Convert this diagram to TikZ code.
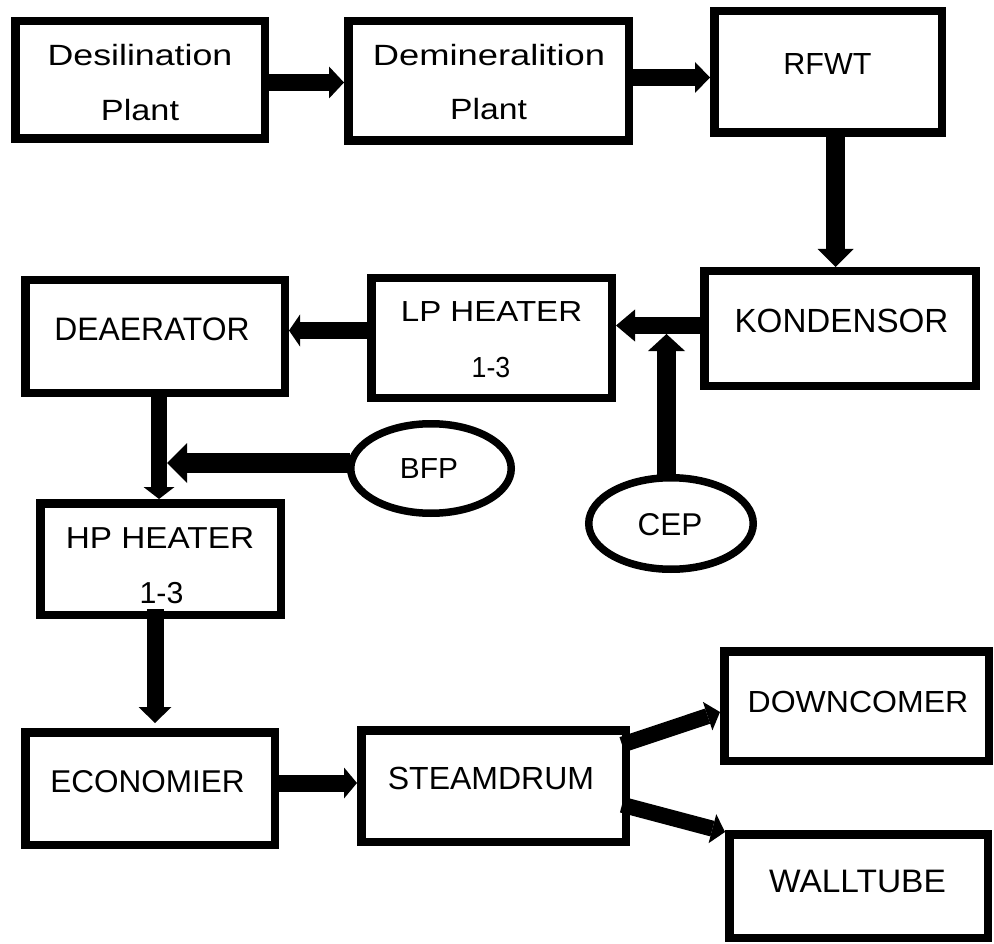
\documentclass[tikz,border=0pt]{standalone}
\usepackage{fontspec}
\setmainfont{Liberation Sans}
\usepackage{graphicx}
\usetikzlibrary{arrows.meta,calc,shapes.geometric}
\newcommand{\mytxt}[3]{\fontsize{#1}{#1}\selectfont\scalebox{#2}[1]{#3}}
\begin{document}
\begin{tikzpicture}[x=1pt,y=-1pt,
  box/.style 2 args={draw, line width=8.5pt, rectangle, inner sep=0pt, fill=white,
    minimum width=#1pt, minimum height=#2pt},
  oval/.style 2 args={draw, line width=7.5pt, ellipse, inner sep=0pt, fill=white,
    minimum width=#1pt, minimum height=#2pt},
  txt/.style={inner sep=0pt, anchor=base},
  barrow/.style n args={3}{line width=#1pt,
    -{Triangle[length=#2pt, width=#3pt, line width=0pt]}}]
\useasboundingbox (0,0) rectangle (994,944);
\fill[white] (0,0) rectangle (994,944);

% boxes
\node[box={249.5}{117.5}] (desil) at (140,80) {};
\node[box={280.5}{119.5}] (demin) at (488.5,81) {};
\node[box={227.5}{121.5}] (rfwt) at (828,72) {};
\node[box={271.5}{114.5}] (kond) at (840,328.5) {};
\node[box={240.5}{119.5}] (lph) at (491.5,338) {};
\node[box={259.5}{112.5}] (deaer) at (155,336.5) {};
\node[box={240.5}{111.5}] (hph) at (160.5,559) {};
\node[box={249.5}{112.5}] (econ) at (150,788.5) {};
\node[box={264.5}{111.5}] (steam) at (493.5,786) {};
\node[box={264.5}{109.5}] (down) at (856.5,706) {};
\node[box={258.5}{103.5}] (wall) at (858.5,886) {};
\node[oval={160.5}{89.5}] (bfp) at (431,468.5) {};
\node[oval={164.5}{91.5}] (cep) at (671,523.5) {};

% texts
\node[txt] (desilA) at (140,66) {\mytxt{29.3}{1.22}{Desilination}};
\node[txt] (desilB) at (140,121) {\mytxt{29.3}{1.17}{Plant}};
\node[txt] (deminA) at (489,66) {\mytxt{29.3}{1.24}{Demineralition}};
\node[txt] (deminB) at (488.5,120) {\mytxt{29.3}{1.15}{Plant}};
\node[txt] (rfwtT) at (827.5,75) {\mytxt{30.5}{1}{RFWT}};
\node[txt] (kondT) at (841.5,333) {\mytxt{33.5}{0.99}{KONDENSOR}};
\node[txt] (lphA) at (491.5,322) {\mytxt{29}{1.14}{LP HEATER}};
\node[txt] (lphB) at (491,377) {\mytxt{29}{0.92}{1-3}};
\node[txt] (deaerT) at (152,341) {\mytxt{32.5}{0.98}{DEAERATOR}};
\node[txt] (bfpT) at (429,478) {\mytxt{29}{1.03}{BFP}};
\node[txt] (cepT) at (670,535) {\mytxt{31.5}{1}{CEP}};
\node[txt] (hphA) at (160,548) {\mytxt{30.3}{1.1}{HP HEATER}};
\node[txt] (hphB) at (161.5,603) {\mytxt{30.3}{1}{1-3}};
\node[txt] (econT) at (147.5,792) {\mytxt{31.5}{1}{ECONOMIER}};
\node[txt] (steamT) at (491,789) {\mytxt{32}{1}{STEAMDRUM}};
\node[txt] (downT) at (858,712) {\mytxt{30.5}{1.05}{DOWNCOMER}};
\node[txt] (wallT) at (857.5,892) {\mytxt{32.5}{1.03}{WALLTUBE}};

% connectors
\coordinate (j1) at (666.5,334);
\coordinate (j2) at (167,463);
\draw[barrow={17}{15}{32}] ($(desil.east)+(0,2.5)$) coordinate (a1) -- (a1 -| demin.west);
\draw[barrow={17}{15}{31}] ($(demin.east)+(0,-3.5)$) coordinate (a2) -- (a2 -| rfwt.west);
\draw[barrow={19}{18}{36}] ($(rfwt.south)+(7.5,0)$) coordinate (a3) -- (a3 |- kond.north);
\draw[barrow={17}{19}{32}] ($(kond.west)+(0,-3)$) coordinate (a4) -- (a4 -| lph.east);
\draw[barrow={19}{17}{37}] ($(j1 |- cep.north)+(0,3)$) -- (j1);
\draw[barrow={17}{11}{32}] ($(lph.west)+(0,-7.5)$) coordinate (a6) -- (a6 -| deaer.east);
\draw[barrow={16}{12}{31}] ($(deaer.south)+(4,0)$) coordinate (a7) -- (a7 |- hph.north);
\draw[barrow={20}{20}{40}] ($(bfp.west |- j2)+(3,0)$) -- (j2);
\draw[barrow={17}{16}{33}] ($(hph.south)+(-5.5,-10)$) coordinate (a9) -- ($(a9 |- econ.north)+(0,-5)$);
\draw[barrow={17}{13}{31}] ($(econ.east)+(0,-5.5)$) coordinate (a10) -- (a10 -| steam.west);
\draw[barrow={16}{13}{30}] ($(steam.east)+(-8,-41.3)$) -- ($(down.west)+(0,6)$);
\draw[barrow={16}{13}{30}] ($(steam.east)+(-8,18.7)$) -- ($(wall.north west)+(0,2)$);
\end{tikzpicture}
\end{document}
